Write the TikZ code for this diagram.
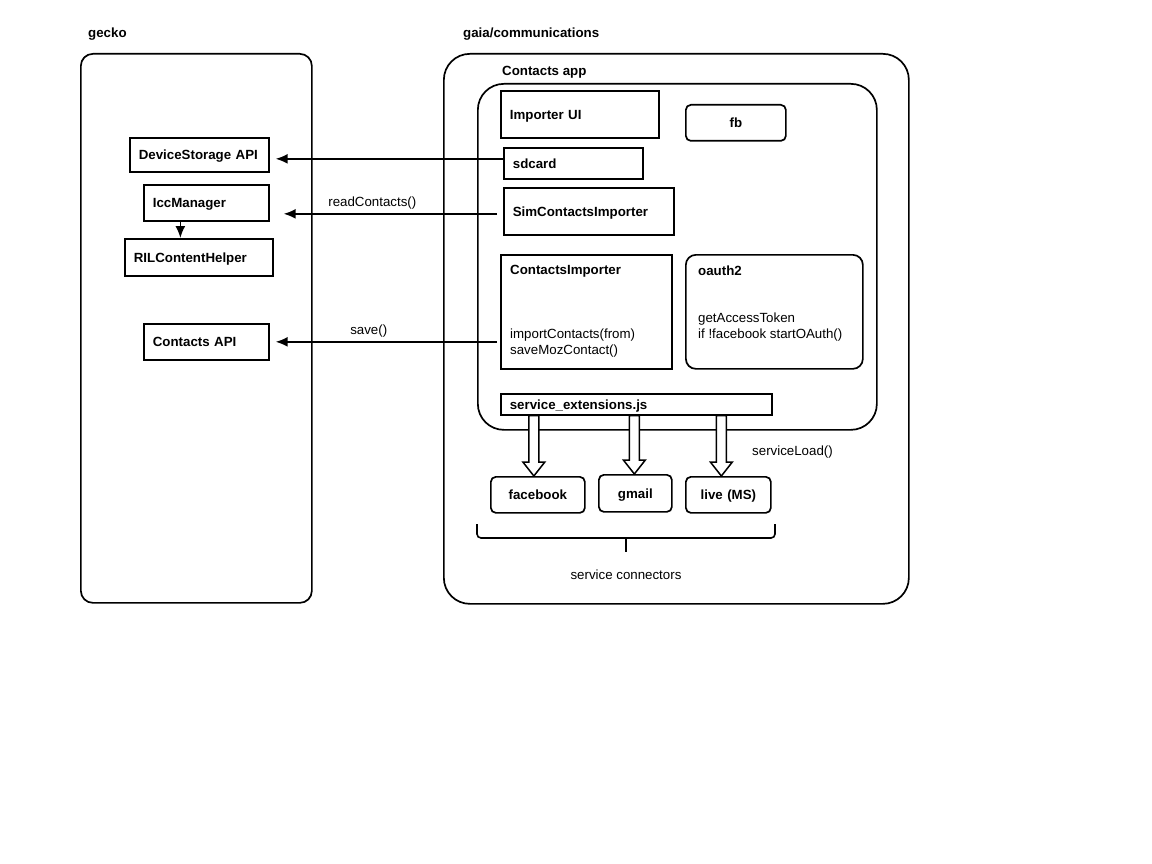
\documentclass[tikz,border=0pt]{standalone}
\usepackage{fontspec}
\setmainfont{Liberation Sans}
\usetikzlibrary{arrows.meta,calc}
\newcommand{\labfont}{\fontsize{13.3}{16}\selectfont}
\tikzset{
  every node/.style={font=\labfont},
  frame/.style={draw, line width=1.7pt, anchor=north west, inner sep=0pt},
  lbox/.style={draw, line width=1.7pt, anchor=north west, font=\labfont\bfseries,
    align=left, inner xsep=9pt, inner ysep=0pt, text height=10pt, text depth=0pt},
  cbox/.style={lbox, align=center, rounded corners=5pt},
  title/.style={anchor=west, font=\labfont\bfseries, inner sep=0pt},
  plain/.style={anchor=west, inner sep=0pt, align=left},
  link/.style={-{Latex[length=12pt,width=10pt]}, line width=1.6pt},
  hollow/.style={draw, fill=white, line width=1.5pt}
}

\begin{document}
\begin{tikzpicture}[x=1pt,y=-1pt]
  \useasboundingbox (0,0) rectangle (1152,864);
  \node[title] at (88,34) {gecko};
  \node[frame, rounded corners=12pt, minimum width=231pt, minimum height=549pt] (gecko) at (80,53) {};
  \node[title] at (463,34) {gaia/communications};
  \node[frame, rounded corners=26pt, minimum width=465pt, minimum height=550pt] (gaia) at (443,53) {};
  \node[title] at (502,72) {Contacts app};
  \node[frame, rounded corners=26pt, minimum width=399pt, minimum height=346pt] (app) at (477,83) {};

  \node[lbox, text width=121pt, minimum height=34pt] (dev) at (129,137) {DeviceStorage API};
  \node[lbox, text width=107pt, minimum height=36pt] (icc) at (143,184) {IccManager};
  \node[lbox, text width=130pt, minimum height=37pt] (ril) at (124,238) {RILContentHelper};
  \node[lbox, text width=107pt, minimum height=36pt] (capi) at (143,323) {Contacts API};

  \node[lbox, text width=140pt, minimum height=47pt] (imp) at (500,90) {Importer UI};
  \node[cbox, text width=82pt, minimum height=36pt] (fb) at (685,104) {fb};
  \node[lbox, text width=121pt, minimum height=31pt] (sd) at (503,147) {sdcard};
  \node[lbox, text width=152pt, minimum height=47pt] (sim) at (503,187) {SimContactsImporter};
  \node[lbox, text width=153pt, minimum height=114pt] (ci) at (500,254) {};
  \node[title] at (510,271) {ContactsImporter};
  \node[plain] at (510,343) {importContacts(from)\\saveMozContact()};
  \node[lbox, rounded corners=10pt, text width=159pt, minimum height=114pt] (oa) at (685,254) {};
  \node[title] at (698,271) {oauth2};
  \node[plain] at (698,327) {getAccessToken\\if !facebook startOAuth()};
  \node[lbox, text width=253pt, minimum height=21pt] (ext) at (500,393) {service\_extensions.js};

  \node[cbox, text width=76pt, minimum height=36pt] (fbk) at (490,476) {facebook};
  \node[cbox, text width=55pt, minimum height=37pt] (gml) at (598,474) {gmail};
  \node[cbox, text width=67pt, minimum height=36pt] (live) at (685,476) {live (MS)};

  \foreach \t/\d in {fbk/-4,gml/-1,live/-7}
    \draw[hollow] ($(ext.south -| \t.north)+(\d-5,0)$) -- ($(\t.north)+(\d-5,-14)$)
      -- ($(\t.north)+(\d-11,-14)$) -- ($(\t.north)+(\d,0)$) -- ($(\t.north)+(\d+11,-14)$)
      -- ($(\t.north)+(\d+5,-14)$) -- ($(ext.south -| \t.north)+(\d+5,0)$) -- cycle;
  \node[plain] at (752,452) {serviceLoad()};

  \draw[link, shorten >=6pt] ([yshift=4.5pt]sd.west) -- ([yshift=4.5pt]sd.west -| dev.east);
  \draw[link, shorten <=6pt, shorten >=14pt] ([yshift=-2.5pt]sim.west) -- ([yshift=-2.5pt]sim.west -| icc.east)
    node[pos=0.56, above] {readContacts()};
  \draw[link, shorten <=3pt, shorten >=6pt] (ci.west |- capi.east) -- (capi.east)
    node[pos=0.57, above] {save()};
  \draw[link] ([xshift=-26pt]icc.south) -- ([xshift=-26pt]icc.south |- ril.north);

  \draw[line width=1.6pt, rounded corners=4pt] (477,524) -- (477,538) -- (775,538) -- (775,524);
  \draw[line width=1.6pt] (626,538) -- (626,552);
  \node at (626,575) {service connectors};
\end{tikzpicture}
\end{document}
